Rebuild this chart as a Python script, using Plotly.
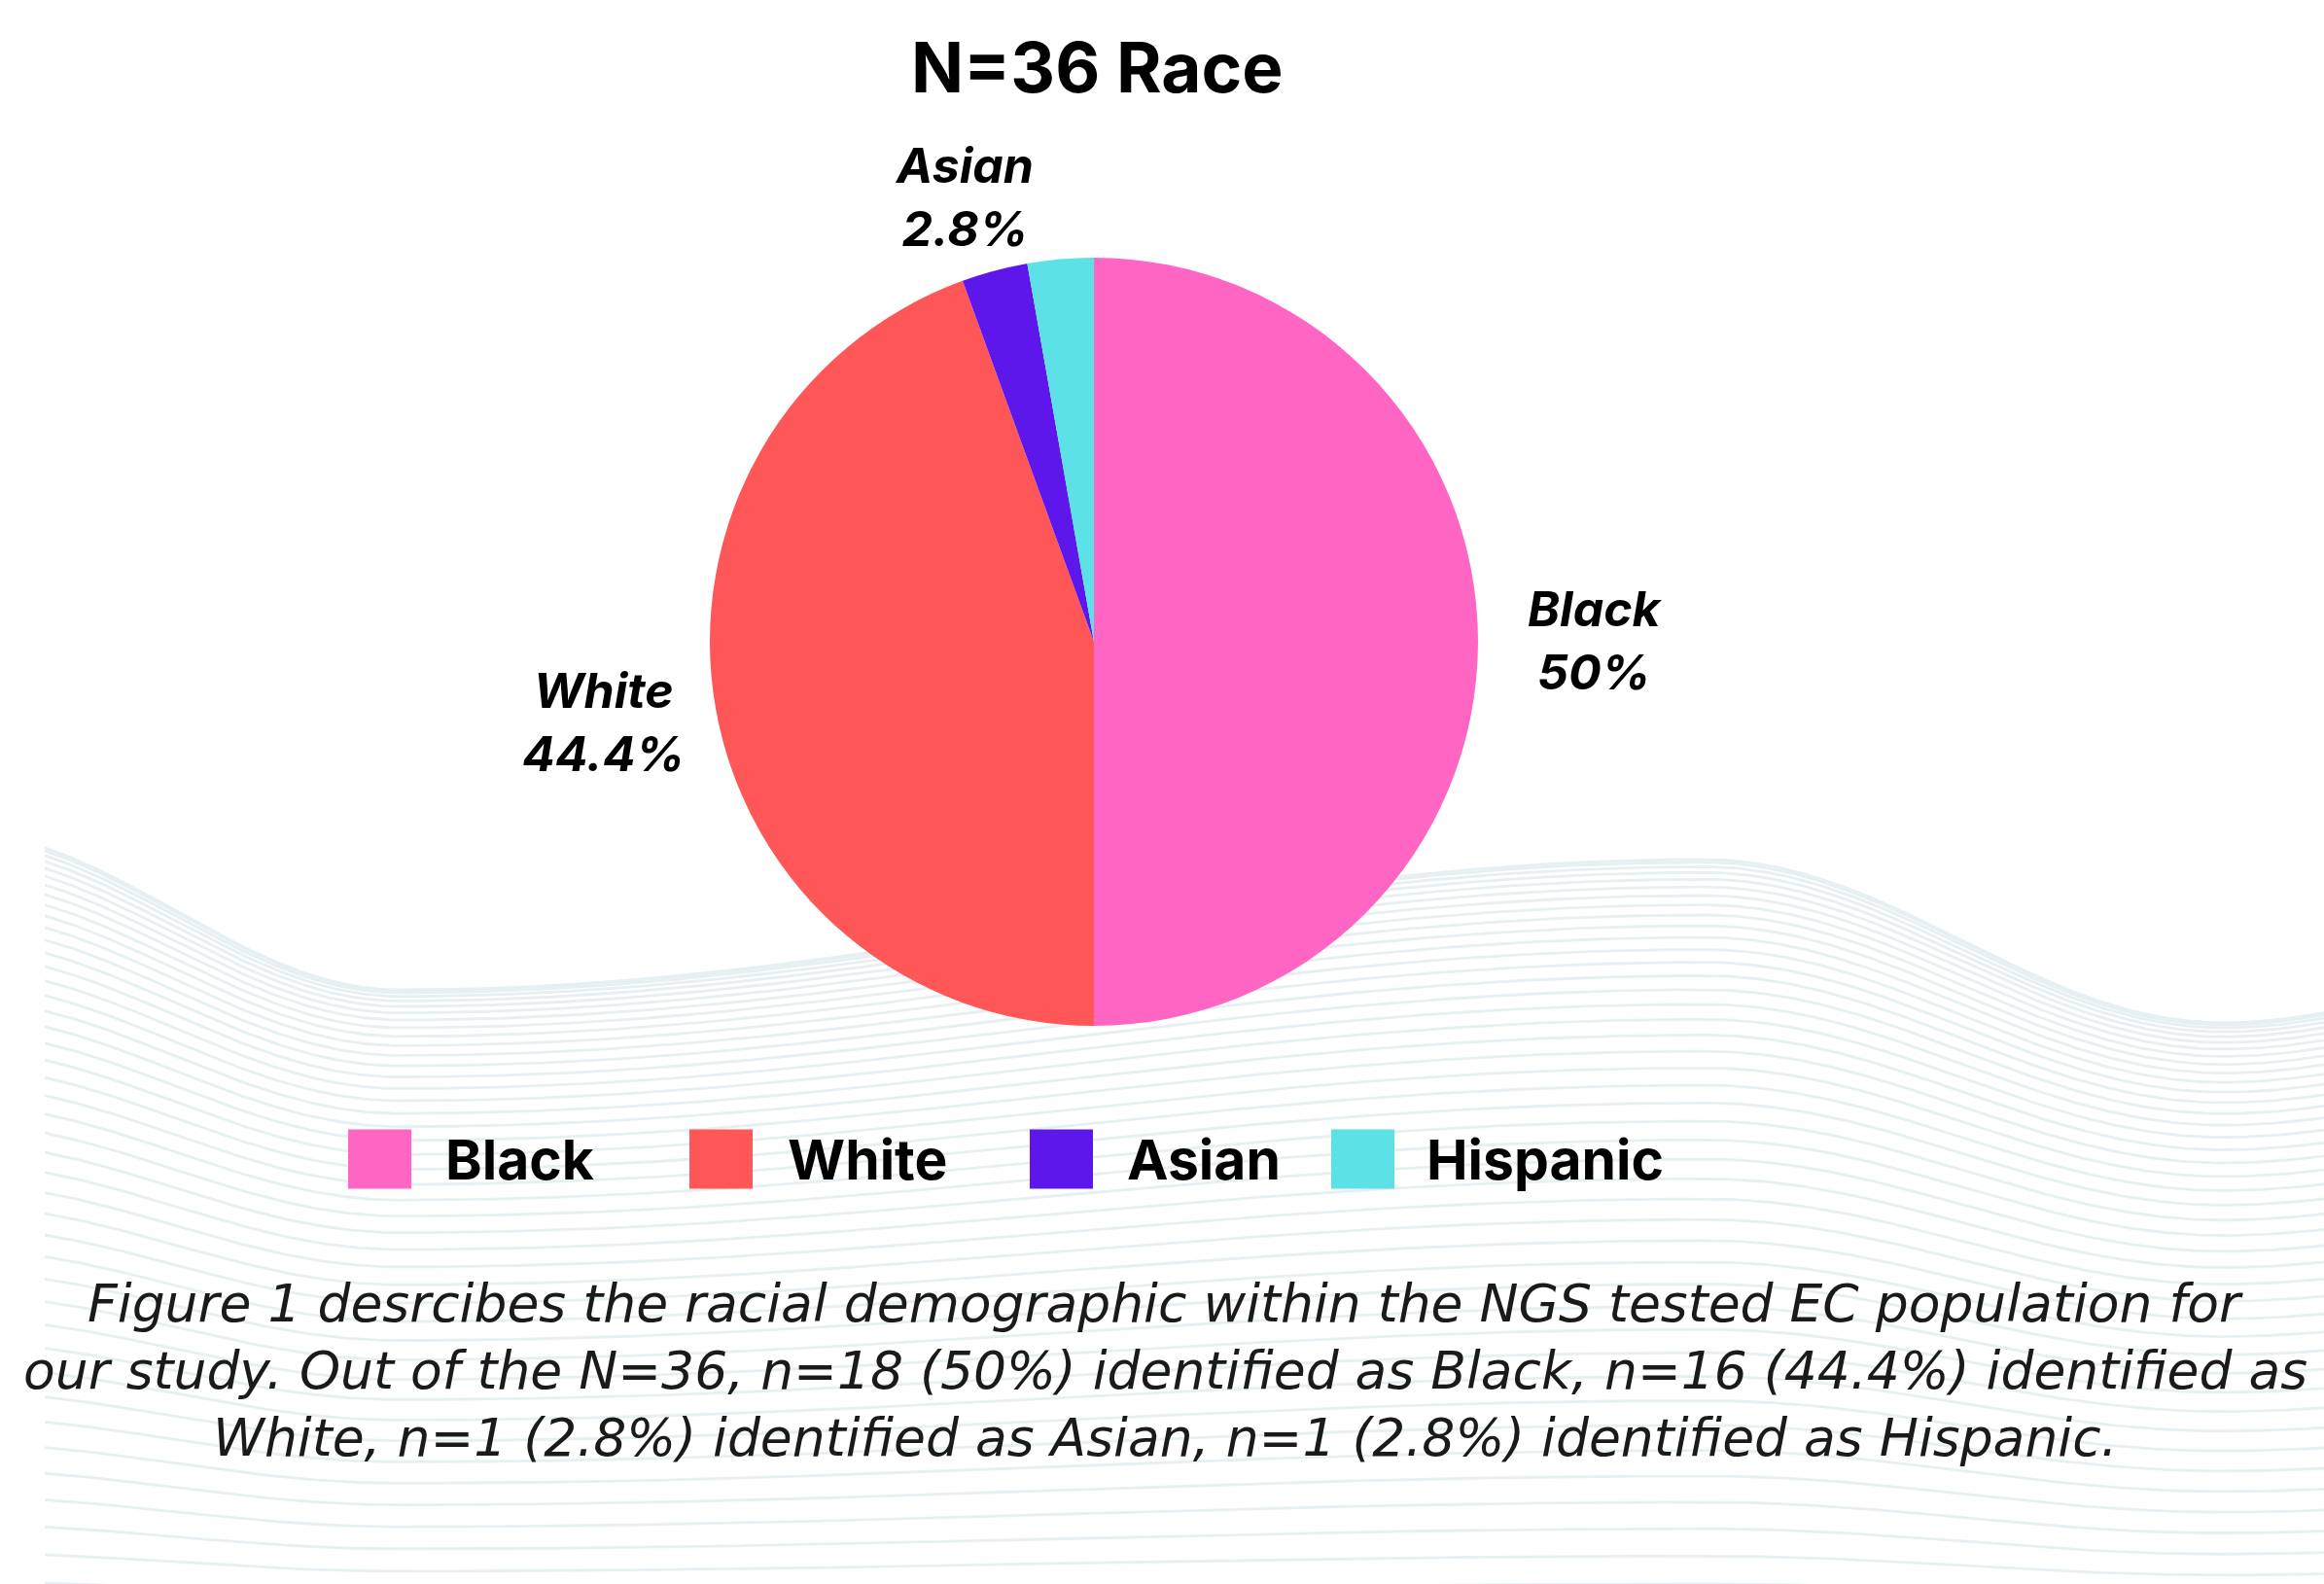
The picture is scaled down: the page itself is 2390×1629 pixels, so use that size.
import numpy as np
import plotly.graph_objects as go

# ---------------- data ----------------
categories = ["Black", "White", "Asian", "Hispanic"]
counts = [18, 16, 1, 1]
colors = ["#FF66C4", "#FF5757", "#5E17EB", "#5CE1E6"]
labelled = [True, True, True, False]
title_text = "N=36 Race"
caption_lines = [
    "Figure 1 desrcibes the racial demographic within the NGS tested EC population for",
    "our study. Out of the N=36, n=18 (50%) identified as Black, n=16 (44.4%) identified as",
    "White, n=1 (2.8%) identified as Asian, n=1 (2.8%) identified as Hispanic.",
]

# ---------------- layout constants (pixels) ----------------
W, H = 2390, 1629
pie_cx, pie_cy, pie_r = 1125, 660, 395
label_pos = {"Black": (1640, 658), "White": (620, 742), "Asian": (991, 202)}
legend_sq_x = [358, 709, 1059, 1369]
legend_txt_x = [456, 808, 1157, 1465]
legend_y = 1192
sq_w, sq_h = 65, 61
caption_y = [1340, 1409, 1478]

fig = go.Figure()

# ---------------- decorative wave background ----------------
kx = [-50, 411, 1753, 2286, 2600]
ky = [855, 1018, 884, 1052, 1010]
xs = np.linspace(46, W, 500)


def top_curve(x):
    y = np.empty_like(x)
    for j in range(len(kx) - 1):
        m = (x >= kx[j]) & (x <= kx[j + 1])
        u = (x[m] - kx[j]) / (kx[j + 1] - kx[j])
        y[m] = ky[j] + (ky[j + 1] - ky[j]) * (1 - np.cos(np.pi * u)) / 2
    return y


top = top_curve(xs)
mean_top = 950
wx, wy = [], []
N = 44
for i in range(N):
    t = i / (N - 1)
    yy = mean_top + (top - mean_top) * (1 - t) ** 0.7 + (1660 - mean_top) * t ** 1.6
    wx += list(xs) + [None]
    wy += list(yy) + [None]
fig.add_trace(go.Scatter(x=wx, y=wy, mode="lines",
                         line=dict(color="#E6EFF2", width=2.8),
                         hoverinfo="skip", showlegend=False))

# ---------------- pie ----------------
fig.add_trace(go.Pie(
    labels=categories, values=counts, sort=False, direction="clockwise",
    rotation=0, marker=dict(colors=colors, line=dict(width=0)),
    textinfo="none", hoverinfo="label+percent", showlegend=False,
    domain=dict(x=[(pie_cx - pie_r) / W, (pie_cx + pie_r) / W],
                y=[1 - (pie_cy + pie_r) / H, 1 - (pie_cy - pie_r) / H]),
))

total = sum(counts)
annotations = []
# slice labels
for cat, c, show in zip(categories, counts, labelled):
    if not show:
        continue
    pct = round(100 * c / total, 1)
    x, y = label_pos[cat]
    annotations.append(dict(
        x=x, y=y, xref="x", yref="y", showarrow=False,
        text=f"<b><i>{cat}<br>{pct:g}%</i></b>",
        font=dict(family="Inter, Open Sans, sans-serif", size=50, color="#000"),
        xanchor="center", yanchor="middle", align="center"))

# title
annotations.append(dict(
    x=1128, y=69, xref="x", yref="y", showarrow=False,
    text=f"<b>{title_text}</b>",
    font=dict(family="Inter, Open Sans, sans-serif", size=71, color="#000"),
    xanchor="center", yanchor="middle"))

# legend
shapes = []
for cat, col, sx, tx in zip(categories, colors, legend_sq_x, legend_txt_x):
    shapes.append(dict(type="rect", xref="x", yref="y", x0=sx, x1=sx + sq_w,
                       y0=legend_y - sq_h / 2, y1=legend_y + sq_h / 2,
                       fillcolor=col, line=dict(width=0), layer="above"))
    annotations.append(dict(
        x=tx, y=legend_y, xref="x", yref="y", showarrow=False,
        text=f"<b>{cat}</b>",
        font=dict(family="Inter, Open Sans, sans-serif", size=57, color="#000"),
        xanchor="left", yanchor="middle"))

# caption
for line, cy in zip(caption_lines, caption_y):
    annotations.append(dict(
        x=1198, y=cy, xref="x", yref="y", showarrow=False,
        text=f"<i>{line}</i>", borderpad=0,
        font=dict(family="DejaVu Sans, sans-serif", size=53.5, color="#1a1a1a", weight=300),
        xanchor="center", yanchor="middle", align="center"))

fig.update_layout(
    width=W, height=H, margin=dict(l=0, r=0, t=0, b=0),
    paper_bgcolor="white", plot_bgcolor="rgba(0,0,0,0)",
    xaxis=dict(range=[0, W], visible=False, fixedrange=True),
    yaxis=dict(range=[H, 0], visible=False, fixedrange=True),
    annotations=annotations, shapes=shapes, showlegend=False,
)

fig.write_html("out.html", config={"displayModeBar": False},
               post_script="document.body.style.margin='0';")
